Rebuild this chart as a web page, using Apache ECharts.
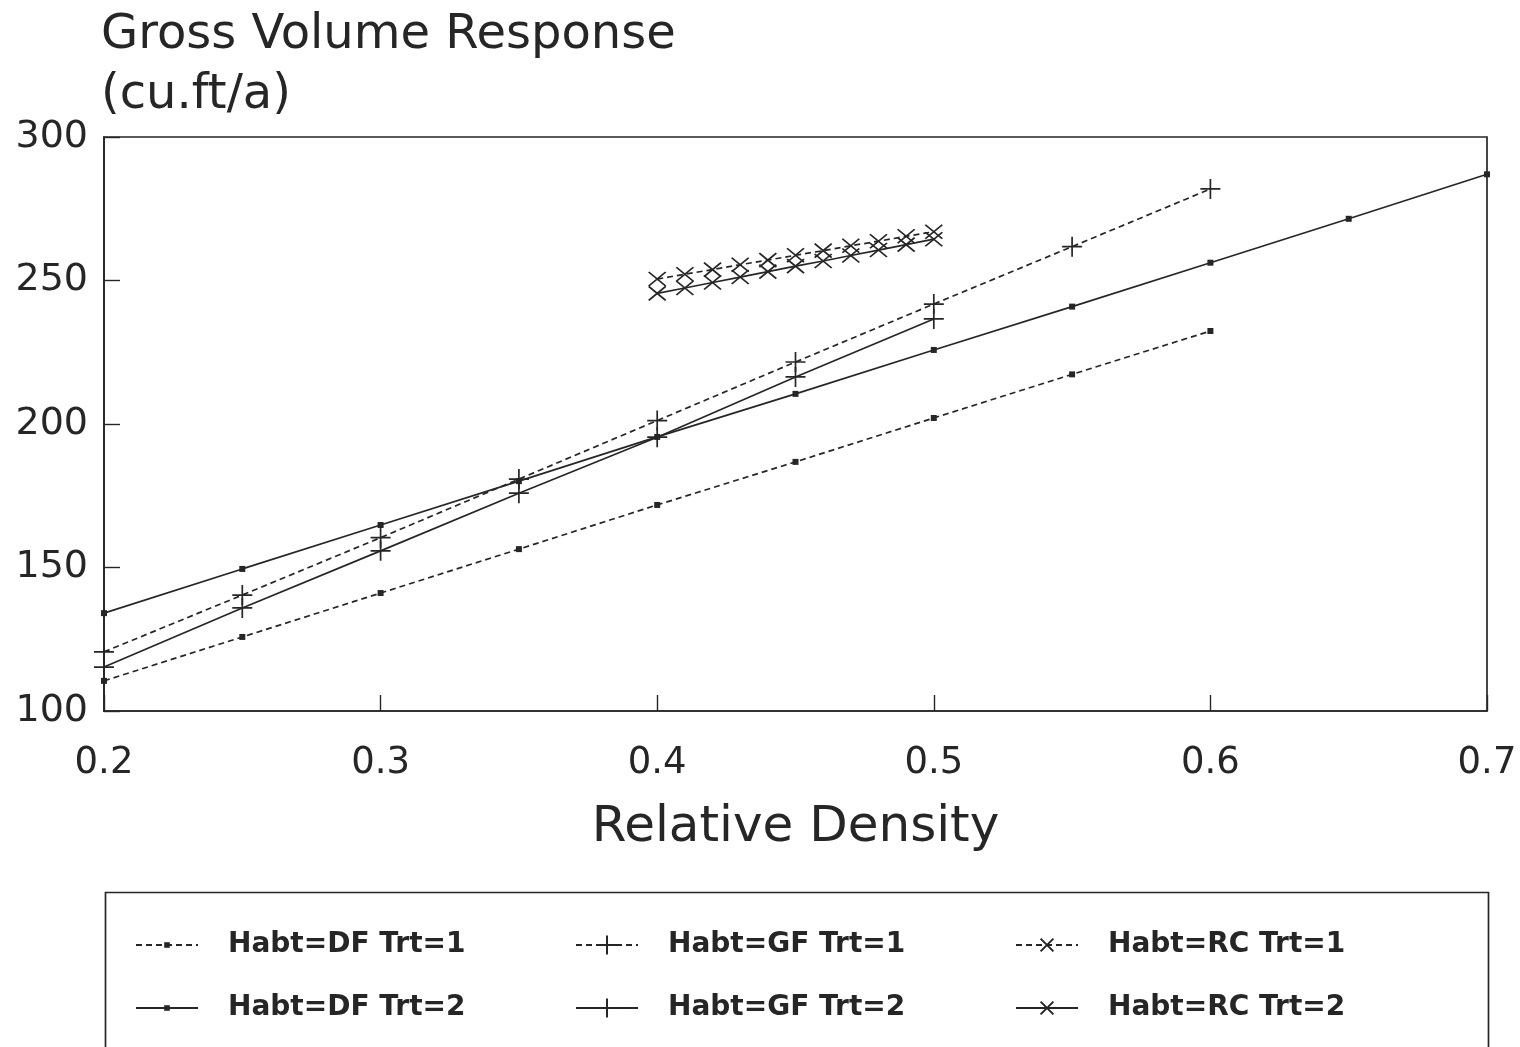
<!DOCTYPE html>
<html>
<head>
<meta charset="utf-8">
<script src="https://cdn.jsdelivr.net/npm/echarts@6/dist/echarts.min.js"></script>
<style>
html,body{margin:0;padding:0;background:#fff;}
#chart{width:1520px;height:1047px;}
</style>
</head>
<body>
<div id="chart"></div>
<script>
// ---- data ----
const densityDF1 = [0.20, 0.25, 0.30, 0.35, 0.40, 0.45, 0.50, 0.55, 0.60];
const responseDF1 = [110.5, 125.8, 141.1, 156.4, 171.8, 186.8, 202.1, 217.3, 232.4];

const densityDF2 = [0.20, 0.25, 0.30, 0.35, 0.40, 0.45, 0.50, 0.55, 0.60, 0.65, 0.70];
const responseDF2 = [134.1, 149.5, 164.8, 180.1, 195.5, 210.5, 225.8, 240.9, 256.2, 271.5, 287.0];

const densityGF1 = [0.20, 0.25, 0.30, 0.35, 0.40, 0.45, 0.50, 0.55, 0.60];
const responseGF1 = [120.6, 140.4, 160.4, 180.8, 201.2, 221.6, 241.8, 261.8, 281.9];

const densityGF2 = [0.20, 0.25, 0.30, 0.35, 0.40, 0.45, 0.50];
const responseGF2 = [115.3, 135.9, 155.8, 175.9, 195.4, 216.4, 236.6];

const densityRC1 = [0.40, 0.41, 0.42, 0.43, 0.44, 0.45, 0.46, 0.47, 0.48, 0.49, 0.50];
const responseRC1 = [250.5, 252.2, 253.8, 255.5, 257.1, 258.8, 260.4, 262.1, 263.7, 265.4, 267.0];

const densityRC2 = [0.40, 0.41, 0.42, 0.43, 0.44, 0.45, 0.46, 0.47, 0.48, 0.49, 0.50];
const responseRC2 = [245.5, 247.4, 249.3, 251.2, 253.1, 255.0, 256.8, 258.7, 260.6, 262.5, 264.4];

const seriesNames = ['Habt=DF Trt=1', 'Habt=DF Trt=2', 'Habt=GF Trt=1', 'Habt=GF Trt=2', 'Habt=RC Trt=1', 'Habt=RC Trt=2'];
const xTicks = [0.2, 0.3, 0.4, 0.5, 0.6, 0.7];
const yTicks = [100, 150, 200, 250, 300];

const titleText = 'Gross Volume Response\n(cu.ft/a)';
const xAxisTitle = 'Relative Density';

// ---- styling ----
const INK = '#262626';
const FONT = 'DejaVu Sans';
const PLUS = 'path://M10,0L10,20M0,10L20,10';
const CROSS = 'path://M0,0L20,20M20,0L0,20';

function pairs(xs, ys) { return xs.map((x, i) => [x, ys[i]]); }

function mkSeries(name, xs, ys, symbol, size, dashed) {
  return {
    name: name,
    type: 'line',
    data: pairs(xs, ys),
    symbol: symbol,
    symbolSize: size,
    showAllSymbol: true,
    clip: false,
    animation: false,
    lineStyle: { color: INK, width: 1.7, type: dashed ? [6, 4] : 'solid' },
    itemStyle: { color: INK, borderColor: INK, borderWidth: symbol === 'rect' ? 0 : 1.7 },
    emphasis: { disabled: true }
  };
}

const series = [
  mkSeries(seriesNames[0], densityDF1, responseDF1, 'rect', 6, true),
  mkSeries(seriesNames[1], densityDF2, responseDF2, 'rect', 6, false),
  mkSeries(seriesNames[2], densityGF1, responseGF1, PLUS, 20, true),
  mkSeries(seriesNames[3], densityGF2, responseGF2, PLUS, 20, false),
  mkSeries(seriesNames[4], densityRC1, responseRC1, CROSS, [17, 14], true),
  mkSeries(seriesNames[5], densityRC2, responseRC2, CROSS, [17, 14], false)
];

const legendCols = [135, 575, 1015];
const legendRows = [930, 993];
const legendIconHeights = [7, 7, 24, 24, 16, 16];
const legends = seriesNames.map((n, i) => ({
  data: [n],
  left: legendCols[Math.floor(i / 2)],
  top: legendRows[i % 2],
  padding: 0,
  itemWidth: 62,
  itemHeight: legendIconHeights[i],
  selectedMode: false,
  textStyle: { fontFamily: FONT, fontSize: 28, fontWeight: 'bold', color: INK, lineHeight: 30, padding: [0, 0, 0, 25] }
}));

const chart = echarts.init(document.getElementById('chart'), null, { renderer: 'canvas' });
chart.setOption({
  animation: false,
  backgroundColor: '#fff',
  title: {
    text: titleText,
    left: 101,
    top: 6,
    padding: 0,
    textStyle: { fontFamily: FONT, fontSize: 48, fontWeight: 'normal', color: INK, lineHeight: 60 }
  },
  legend: legends,
  grid: {
    left: 104, right: 33, top: 137, bottom: 336,
    show: true, borderColor: INK, borderWidth: 1.7, backgroundColor: 'transparent'
  },
  xAxis: {
    type: 'value',
    min: xTicks[0], max: xTicks[xTicks.length - 1], interval: 0.1,
    name: xAxisTitle,
    nameLocation: 'middle',
    nameGap: 92,
    nameTextStyle: { fontFamily: FONT, fontSize: 50, color: INK },
    axisLine: { lineStyle: { color: INK, width: 1.7 } },
    axisTick: { inside: true, length: 16, lineStyle: { color: INK, width: 1.4 } },
    axisLabel: { fontFamily: FONT, fontSize: 37, color: INK, margin: 34,
      formatter: v => v.toFixed(1), showMinLabel: true, showMaxLabel: true },
    splitLine: { show: false }
  },
  yAxis: {
    type: 'value',
    min: yTicks[0], max: yTicks[yTicks.length - 1], interval: 50,
    axisLine: { lineStyle: { color: INK, width: 1.7 } },
    axisTick: { inside: true, length: 16, lineStyle: { color: INK, width: 1.4 } },
    axisLabel: { fontFamily: FONT, fontSize: 38, color: INK, margin: 16 },
    splitLine: { show: false }
  },
  graphic: [{
    type: 'rect',
    left: 103, top: 890,
    shape: { width: 1383, height: 200 },
    style: { fill: 'none', stroke: INK, lineWidth: 1.7 },
    silent: true
  }],
  series: series
});
</script>
</body>
</html>
